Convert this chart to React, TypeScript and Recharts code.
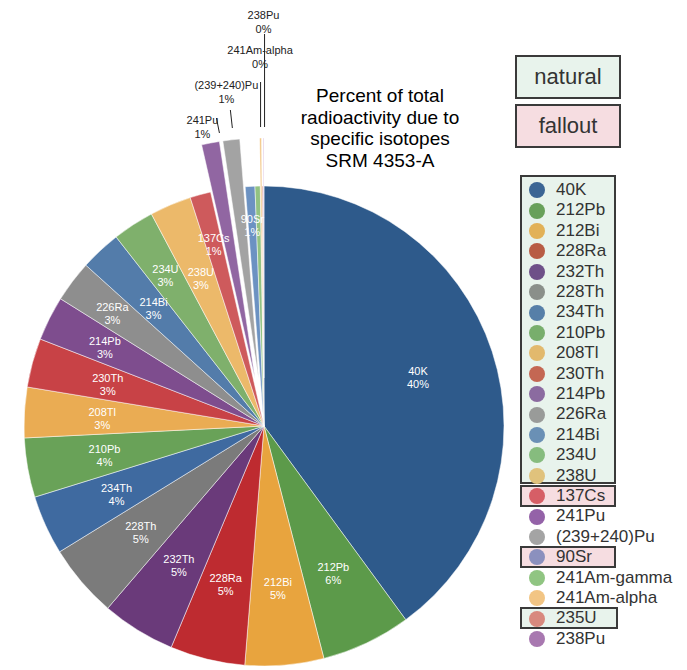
import { PieChart, Pie, Cell, Sector } from 'recharts'

// isotopes in pie / legend order
const isotopes = [
  '40K', '212Pb', '212Bi', '228Ra', '232Th', '228Th', '234Th', '210Pb', '208Tl', '230Th',
  '214Pb', '226Ra', '214Bi', '234U', '238U', '137Cs', '241Pu', '(239+240)Pu', '90Sr',
  '241Am-gamma', '241Am-alpha', '235U', '238Pu',
]
// percent of total activity
const percents = [
  40.0, 6.05, 5.3, 5.05, 4.97, 4.94, 4.0, 4.0, 3.4, 3.3,
  3.0, 2.8, 2.75, 2.8, 2.8, 1.4, 1.2, 1.13, 0.65,
  0.35, 0.12, 0.08, 0.05,
]
const sliceColors = [
  '#2E5A8B', '#5C9A4A', '#E8A43E', '#BE2B30', '#6A3A7A', '#7B7B7B', '#3F6AA0', '#69A258', '#EAAC53', '#C84246',
  '#7E4D8E', '#8E8E8E', '#537CAA', '#7FB06C', '#ECB96A', '#CE5A5C', '#9166A2', '#A3A3A3', '#6C92C2',
  '#92C282', '#F2C582', '#D48378', '#C9A2D4',
]
const legendColors = [
  '#3B6594', '#68A05A', '#E2B157', '#B85C44', '#6E5088', '#8A8F8A', '#567FA8', '#78AE6C', '#E2B96D', '#C46753',
  '#8B6BA0', '#999B99', '#6A90B5', '#86BC7E', '#E0C27C', '#D65E66', '#9462A8', '#A4A4A4', '#8B90BE',
  '#90C582', '#F2C584', '#D8897E', '#A878B0',
]
const explodedNames = ['241Pu', '(239+240)Pu', '241Am-alpha', '238Pu']
const hiddenLabels = ['241Am-gamma', '235U']
const titleLines = ['Percent of total', 'radioactivity due to', 'specific isotopes', 'SRM 4353-A']

const data = isotopes.map((name, i) => ({ name, value: percents[i] }))

const CX = 264
const CY = 426
const R = 240
const EXPLODE = 48
const RAD = Math.PI / 180
const FONT = '"Liberation Sans", Arial, Helvetica, sans-serif'

// labels that were nudged outwards to avoid overlaps
const labelRadius: Record<string, number> = {
  '226Ra': 190, '234U': 181, '214Pb': 178, '137Cs': 190, '90Sr': 202,
}
// stacked outside labels for the exploded slices
const outerSlotY = [127, 92, 57, 22]

// exploded slices are drawn through the label hook of the first pie
const renderExploded = (props: any) => {
  const { cx, cy, midAngle, outerRadius, startAngle, endAngle, index } = props
  const name = isotopes[index]
  if (!explodedNames.includes(name)) return <g />
  const a = -midAngle * RAD
  return (
    <Sector
      cx={cx + Math.cos(a) * EXPLODE}
      cy={cy + Math.sin(a) * EXPLODE}
      innerRadius={0}
      outerRadius={outerRadius}
      startAngle={startAngle}
      endAngle={endAngle}
      fill={sliceColors[index]}
      stroke="#fff"
      strokeWidth={0.5}
    />
  )
}

const renderText = (props: any) => {
  const { cx, cy, midAngle, outerRadius, percent, index } = props
  const name = isotopes[index]
  const pct = `${Math.round(percent * 100)}%`
  const a = -midAngle * RAD
  const slot = explodedNames.indexOf(name)
  if (slot >= 0) {
    const ex = cx + (outerRadius + EXPLODE) * Math.cos(a)
    const ey = cy + (outerRadius + EXPLODE) * Math.sin(a)
    const lx = ex + (ex - cx) * 0.15
    const ly = outerSlotY[slot]
    let line = [0, 0, 0, 0]
    if (slot === 0) line = [lx + 14, ly - 9, lx + 17, ly + 6]
    else if (slot === 1) line = [lx + 4, ly + 18, lx + 6, ly + 36]
    else if (slot === 2) line = [ex, ly + 25, ex, ey - 11]
    else line = [ex + 1, ly + 12, ex + 1, ey - 11]
    return (
      <g>
        <line x1={line[0]} y1={line[1]} x2={line[2]} y2={line[3]} stroke="#222" strokeWidth={1} />
        <text x={lx} y={ly - 3} textAnchor="middle" fontSize={11} fontFamily={FONT} fill="#222">
          {name}
        </text>
        <text x={lx} y={ly + 11} textAnchor="middle" fontSize={11} fontFamily={FONT} fill="#222">
          {pct}
        </text>
      </g>
    )
  }
  if (hiddenLabels.includes(name)) return <g />
  const r = labelRadius[name] ?? 162
  const px = cx + r * Math.cos(a)
  const py = cy + r * Math.sin(a)
  return (
    <g>
      <text x={px} y={py - 1} textAnchor="middle" fontSize={11} fontFamily={FONT} fill="#fff">
        {name}
      </text>
      <text x={px} y={py + 12} textAnchor="middle" fontSize={11} fontFamily={FONT} fill="#fff">
        {pct}
      </text>
    </g>
  )
}

const ROW_TOP = 180
const ROW_H = 20.4
const boxBorder = '2.5px solid #3a3a3a'
const greenBg = '#E8F3EC'
const pinkBg = '#F6DDE1'

function Box({ left, top, width, height, bg }: { left: number; top: number; width: number; height: number; bg: string }) {
  return (
    <div
      style={{
        position: 'absolute', left, top, width, height, background: bg,
        border: boxBorder, boxSizing: 'border-box',
      }}
    />
  )
}

export default function App() {
  return (
    <div style={{ position: 'absolute', left: 0, top: 0, width: 687, height: 670, background: '#fff', fontFamily: FONT }}>
      <PieChart width={687} height={670} margin={{ top: 0, right: 0, bottom: 0, left: 0 }}>
        <Pie
          data={data}
          dataKey="value"
          nameKey="name"
          cx={CX}
          cy={CY}
          outerRadius={R}
          startAngle={90}
          endAngle={-270}
          stroke="#fff"
          strokeWidth={0.5}
          label={renderExploded}
          labelLine={false}
          isAnimationActive={false}
        >
          {data.map((d, i) => (
            <Cell
              key={d.name}
              fill={explodedNames.includes(d.name) ? 'transparent' : sliceColors[i]}
              stroke={explodedNames.includes(d.name) ? 'none' : '#fff'}
            />
          ))}
        </Pie>
        {/* same slices again, invisible, only to carry the text labels on top */}
        <Pie
          data={data}
          dataKey="value"
          nameKey="name"
          cx={CX}
          cy={CY}
          outerRadius={R}
          startAngle={90}
          endAngle={-270}
          fill="transparent"
          stroke="none"
          label={renderText}
          labelLine={false}
          legendType="none"
          isAnimationActive={false}
        />
      </PieChart>

      {/* title */}
      <div
        style={{
          position: 'absolute', left: 280, top: 85, width: 200, textAlign: 'center',
          fontSize: 19, lineHeight: '21.7px', color: '#000',
        }}
      >
        {titleLines.map((t) => (
          <div key={t}>{t}</div>
        ))}
      </div>

      {/* natural / fallout key */}
      {[
        { label: 'natural', top: 55, bg: greenBg },
        { label: 'fallout', top: 104, bg: pinkBg },
      ].map((k) => (
        <div
          key={k.label}
          style={{
            position: 'absolute', left: 515, top: k.top, width: 106, height: 44, background: k.bg,
            border: boxBorder, boxSizing: 'border-box', display: 'flex', alignItems: 'center',
            justifyContent: 'center', fontSize: 22, color: '#333',
          }}
        >
          {k.label}
        </div>
      ))}

      {/* legend group boxes */}
      <Box left={520} top={175} width={96} height={309} bg={greenBg} />
      <Box left={520} top={ROW_TOP + 15 * ROW_H - 1} width={96} height={22} bg={pinkBg} />
      <Box left={520} top={ROW_TOP + 18 * ROW_H - 1} width={96} height={22} bg={pinkBg} />
      <Box left={520} top={ROW_TOP + 21 * ROW_H - 1} width={98} height={22} bg={greenBg} />

      {/* legend rows */}
      {isotopes.map((name, i) => (
        <div
          key={name}
          style={{
            position: 'absolute', left: 529, top: ROW_TOP + i * ROW_H, height: ROW_H,
            display: 'flex', alignItems: 'center', whiteSpace: 'nowrap',
          }}
        >
          <span
            style={{
              display: 'inline-block', width: 16, height: 16, borderRadius: 8,
              background: legendColors[i], marginRight: 11,
            }}
          />
          <span style={{ fontSize: 17, lineHeight: `${ROW_H}px`, color: '#333' }}>{name}</span>
        </div>
      ))}
    </div>
  )
}
